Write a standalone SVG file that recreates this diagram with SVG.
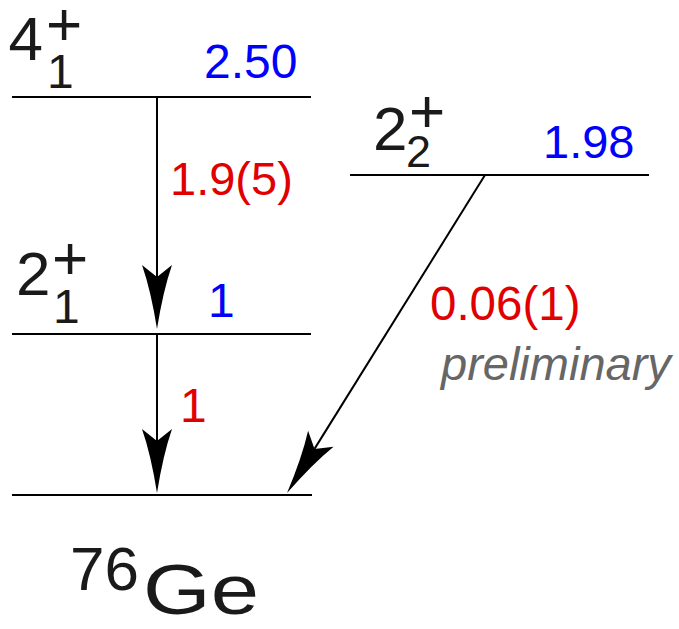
<svg xmlns="http://www.w3.org/2000/svg" width="679" height="629" viewBox="0 0 679 629">
  <style>
    text { font-family: "Liberation Sans", Arial, sans-serif; }
    .lvl { stroke: #000; stroke-width: 2; fill: none; }
    .big { font-size: 62px; fill: #1a1a1a; }
    .sub { font-size: 48px; fill: #1a1a1a; }
    .en { font-size: 48px; fill: #0000ff; }
    .br { font-size: 47px; fill: #e00000; }
    .conn { stroke: #000; stroke-width: 2; fill: none; marker-end: url(#ah); }
  </style>
  <defs>
    <marker id="ah" markerUnits="userSpaceOnUse" viewBox="-14 -17 68 34" markerWidth="68" markerHeight="34" refX="0" refY="0" orient="auto" overflow="visible">
      <path d="M52,0 Q14,-6 -12,-15 L0,0 L-12,15 Q14,6 52,0 Z" fill="#000"/>
    </marker>
  </defs>

  <g id="level-4plus">
    <line class="lvl" x1="12" y1="97" x2="311" y2="97"/>
    <text class="big" x="8.5" y="60">4</text>
    <text class="big" x="46" y="45">+</text>
    <text class="sub" x="47" y="88">1</text>
    <text class="en" x="204" y="78">2.50</text>
  </g>

  <g id="level-2plus-2">
    <line class="lvl" x1="350" y1="175" x2="649" y2="175"/>
    <text class="big" x="373" y="150">2</text>
    <text class="big" x="409" y="132">+</text>
    <text class="sub" x="406" y="167" style="font-size:45px">2</text>
    <text class="en" x="543" y="158" style="font-size:47px">1.98</text>
  </g>

  <g id="level-2plus-1">
    <line class="lvl" x1="12" y1="334" x2="311" y2="334"/>
    <text class="big" x="16" y="295">2</text>
    <text class="big" x="52" y="279">+</text>
    <text class="sub" x="53" y="323">1</text>
    <text class="en" x="208" y="317">1</text>
  </g>

  <g id="level-ground">
    <line class="lvl" x1="12" y1="495" x2="312" y2="495"/>
    <text x="70" y="590" style="font-size:62px; fill:#1a1a1a">76</text>
    <text x="143" y="614" textLength="116" lengthAdjust="spacingAndGlyphs" style="font-size:71px; fill:#1a1a1a">Ge</text>
  </g>

  <g id="connectors">
    <line class="conn" x1="157" y1="97" x2="157" y2="277"/>
    <line class="conn" x1="157" y1="334" x2="157" y2="441"/>
    <line class="conn" x1="485" y1="175" x2="314.5" y2="448.9"/>
    <text class="br" x="170" y="195">1.9(5)</text>
    <text class="br" x="180" y="422" style="font-size:48px">1</text>
    <text class="br" x="430" y="320" style="font-size:47.5px">0.06(1)</text>
    <text x="441" y="380" style="font-size:47px; font-style:italic; fill:#666">preliminary</text>
  </g>
</svg>
